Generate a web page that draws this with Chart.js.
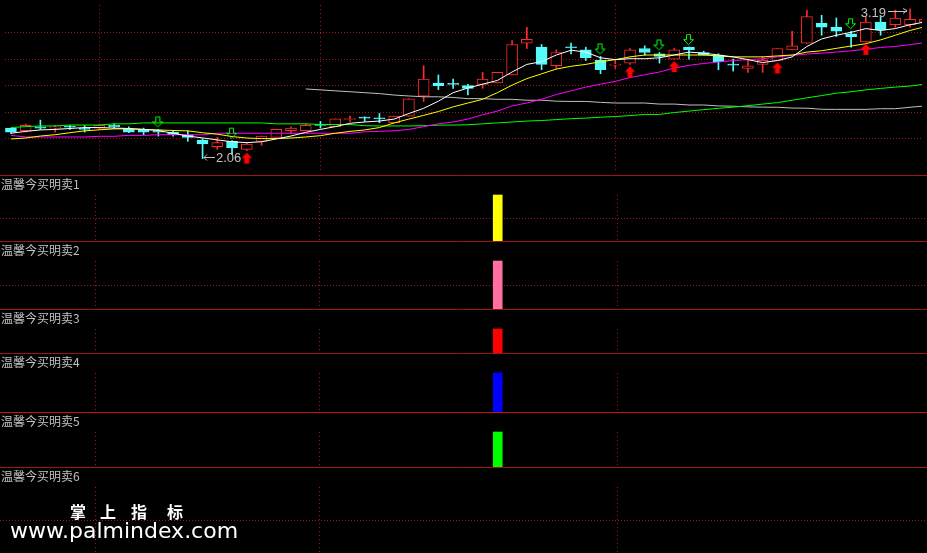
<!DOCTYPE html>
<html>
<head>
<meta charset="utf-8">
<script src="https://cdn.jsdelivr.net/npm/chart.js@4.4.1/dist/chart.umd.min.js"></script>
<style>
html, body { margin: 0; padding: 0; background: #000; }
#wrap { position: relative; width: 927px; height: 553px; overflow: hidden; background: #000; }
#wrap canvas { position: absolute; left: 0; }
</style>
</head>
<body>
<div id="wrap"></div>
<script>
// daily bars, index 0 = leftmost candle
const openP = [2.29,2.27,2.30,2.29,2.300,2.285,2.29,2.31,2.28,2.28,
  2.27,2.26,2.24,2.20,2.15,2.19,2.13,2.19,2.22,2.27,
  2.27,2.315,2.30,2.355,2.37,2.365,2.33,2.38,2.53,2.63,
  2.625,2.61,2.62,2.63,2.69,2.93,2.90,2.76,2.90,2.88,
  2.80,2.765,2.78,2.89,2.85,2.81,2.90,2.86,2.84,2.77,
  2.74,2.77,2.80,2.88,2.93,3.08,3.05,3.00,2.94,3.09,
  3.07,3.07,3.09];
const highP = [2.29,2.32,2.35,2.31,2.31,2.31,2.32,2.32,2.30,2.29,
  2.28,2.27,2.27,2.21,2.22,2.195,2.18,2.23,2.28,2.30,
  2.32,2.34,2.36,2.38,2.375,2.40,2.38,2.51,2.76,2.69,
  2.66,2.62,2.71,2.71,2.95,3.05,2.92,2.88,2.93,2.90,
  2.83,2.80,2.89,2.91,2.86,2.89,2.90,2.87,2.85,2.81,
  2.81,2.83,2.89,3.02,3.18,3.14,3.12,3.02,3.13,3.13,
  3.18,3.19,3.11];
const lowP = [2.25,2.26,2.28,2.26,2.28,2.26,2.28,2.29,2.255,2.24,
  2.23,2.23,2.19,2.06,2.13,2.09,2.12,2.16,2.22,2.25,
  2.27,2.29,2.30,2.34,2.34,2.33,2.33,2.38,2.49,2.58,
  2.59,2.54,2.59,2.63,2.69,2.89,2.73,2.74,2.85,2.80,
  2.70,2.74,2.77,2.84,2.78,2.81,2.81,2.84,2.73,2.72,
  2.71,2.71,2.80,2.88,2.93,2.99,2.98,2.90,2.94,2.99,
  3.05,3.05,3.09];
const closeP = [2.26,2.31,2.29,2.30,2.297,2.28,2.31,2.30,2.26,2.26,
  2.26,2.24,2.22,2.17,2.18,2.14,2.17,2.23,2.28,2.29,
  2.31,2.31,2.36,2.36,2.365,2.36,2.38,2.51,2.66,2.61,
  2.62,2.59,2.66,2.71,2.92,2.96,2.77,2.86,2.895,2.82,
  2.73,2.77,2.88,2.86,2.83,2.88,2.88,2.84,2.79,2.765,
  2.76,2.80,2.89,2.91,3.13,3.05,3.02,2.98,3.09,3.03,
  3.12,3.11,3.11];

// moving averages
const ma5 = [2.251,2.265,2.276,2.280,2.287,2.294,2.294,2.290,2.287,2.280,
  2.272,2.251,2.230,2.216,2.201,2.187,2.180,2.187,2.208,2.230,
  2.258,2.280,2.301,2.326,2.336,2.343,2.358,2.400,2.439,2.493,
  2.557,2.592,2.621,2.649,2.713,2.770,2.791,2.841,2.877,2.863,
  2.820,2.806,2.813,2.813,2.820,2.841,2.863,2.855,2.841,2.827,
  2.806,2.784,2.799,2.827,2.905,2.962,2.990,3.012,3.040,3.026,
  3.040,3.069,3.090];
const ma10 = [2.208,2.215,2.230,2.240,2.255,2.269,2.277,2.284,2.284,2.280,
  2.276,2.272,2.269,2.255,2.244,2.226,2.215,2.211,2.211,2.215,
  2.223,2.233,2.251,2.265,2.276,2.294,2.329,2.358,2.386,2.415,
  2.450,2.479,2.507,2.557,2.614,2.663,2.699,2.735,2.756,2.770,
  2.791,2.806,2.827,2.841,2.841,2.841,2.841,2.841,2.834,2.827,
  2.827,2.827,2.834,2.841,2.863,2.873,2.891,2.909,2.926,2.955,
  2.990,3.026,3.054];
const ma20 = [2.235,2.223,2.223,2.223,2.223,2.223,2.228,2.228,2.235,2.235,
  2.240,2.240,2.240,2.240,2.251,2.251,2.251,2.251,2.251,2.251,
  2.251,2.251,2.251,2.251,2.262,2.265,2.270,2.280,2.301,2.322,
  2.336,2.358,2.390,2.418,2.457,2.479,2.507,2.543,2.571,2.599,
  2.621,2.642,2.671,2.692,2.713,2.742,2.763,2.777,2.788,2.799,
  2.806,2.813,2.827,2.838,2.848,2.855,2.863,2.873,2.884,2.898,
  2.905,2.919,2.934];
const ma60 = [2.294,2.301,2.306,2.306,2.313,2.313,2.313,2.322,2.322,2.329,
  2.329,2.329,2.329,2.329,2.329,2.329,2.329,2.329,2.322,2.322,
  2.322,2.317,2.317,2.317,2.308,2.306,2.306,2.306,2.308,2.312,
  2.313,2.315,2.322,2.329,2.336,2.343,2.347,2.354,2.361,2.365,
  2.372,2.377,2.384,2.393,2.393,2.407,2.418,2.429,2.439,2.448,
  2.459,2.471,2.482,2.500,2.518,2.535,2.553,2.564,2.578,2.589,
  2.599,2.607,2.621];
const ma120 = [null,null,null,null,null,null,null,null,null,null,
  null,null,null,null,null,null,null,null,null,null,
  2.585,2.578,2.571,2.564,2.557,2.550,2.539,2.532,2.526,2.526,
  2.521,2.512,2.512,2.507,2.507,2.500,2.500,2.493,2.491,2.491,
  2.484,2.479,2.479,2.479,2.471,2.471,2.464,2.464,2.457,2.455,
  2.450,2.448,2.447,2.441,2.440,2.432,2.431,2.431,2.431,2.436,
  2.436,2.447,2.457];

const sellDays = [10, 15, 40, 44, 46, 57];
const buyDays = [16, 42, 45, 52, 58];
const gridPrices = [3.012, 2.813, 2.614, 2.415, 2.216];
const gridDays = [6, 21, 41];

const panelNames = ['温馨今买明卖1', '温馨今买明卖2', '温馨今买明卖3', '温馨今买明卖4', '温馨今买明卖5', '温馨今买明卖6'];
const signalDays = [33];
const sig1 = [1];
const sig2 = [1];
const sig3 = [1];
const sig4 = [1];
const sig5 = [1];
const sig6 = [0];

// layout / style
const CYAN = '#54fcfc', RED = '#ff2a2a', GRID = '#a01818', SEP = '#a01414';
const panelTops = [175, 241, 309, 353, 412, 467];
const panelHeights = [66, 68, 44, 59, 55, 86];
const panelColors = ['#ffff00', '#ff6fa0', '#ff0000', '#0000ff', '#00ff00', '#ffffff'];
const panelSigs = [sig1, sig2, sig3, sig4, sig5, sig6];
const panelMid = [true, true, false, false, false, true];

const wrap = document.getElementById('wrap');
function addCanvas(top, h) {
  const c = document.createElement('canvas');
  c.width = 927; c.height = h; c.style.top = top + 'px';
  wrap.appendChild(c);
  return c;
}

const up = i => closeP[i] > openP[i];
const pts = arr => arr.map((v, i) => ({x: i, y: v}));

function arrowCanvas(kind) {
  const c = document.createElement('canvas');
  c.width = 12; c.height = 30;
  const g = c.getContext('2d');
  if (kind === 'down') {
    g.strokeStyle = '#00ff00'; g.lineWidth = 1;
    g.beginPath();
    g.moveTo(3.5, 2.5); g.lineTo(7.5, 2.5); g.lineTo(7.5, 7.5); g.lineTo(10.5, 7.5);
    g.lineTo(5.5, 12.5); g.lineTo(0.5, 7.5); g.lineTo(3.5, 7.5); g.closePath();
    g.stroke();
  } else {
    g.fillStyle = '#ff0000';
    g.beginPath();
    g.moveTo(6, 17); g.lineTo(11.5, 22.5); g.lineTo(8.5, 22.5); g.lineTo(8.5, 28);
    g.lineTo(3.5, 28); g.lineTo(3.5, 22.5); g.lineTo(0.5, 22.5); g.closePath();
    g.fill();
  }
  return c;
}

const xScale = {type: 'linear', min: -0.403, max: 61.81, display: false, offset: false};
const baseOpts = {
  responsive: false, animation: false, events: [],
  layout: {padding: 0},
  plugins: {legend: {display: false}, tooltip: {enabled: false}},
};

const kPlugin = {
  id: 'kPlugin',
  beforeDatasetsDraw(chart) {
    const {ctx, chartArea: a, scales: {x, y}} = chart;
    ctx.save();
    ctx.strokeStyle = GRID; ctx.lineWidth = 1;
    ctx.setLineDash([1, 2]);
    gridPrices.forEach(p => {
      const py = Math.round(y.getPixelForValue(p)) + 0.5;
      ctx.beginPath(); ctx.moveTo(a.left, py); ctx.lineTo(a.right, py); ctx.stroke();
    });
    ctx.setLineDash([1, 3]);
    gridDays.forEach(d => {
      const px = Math.round(x.getPixelForValue(d)) + 0.5;
      ctx.beginPath(); ctx.moveTo(px, a.top); ctx.lineTo(px, a.bottom); ctx.stroke();
    });
    ctx.restore();
  },
  afterDatasetsDraw(chart) {
    const {ctx, scales: {x, y}} = chart;
    let lo = 0, hi = 0;
    lowP.forEach((v, i) => { if (v < lowP[lo]) lo = i; });
    highP.forEach((v, i) => { if (v > highP[hi]) hi = i; });
    ctx.save();
    ctx.strokeStyle = '#c0c0c0'; ctx.fillStyle = '#c0c0c0'; ctx.lineWidth = 1;
    ctx.font = '13px "Liberation Sans", sans-serif';
    ctx.textBaseline = 'middle';
    // lowest low
    let px = Math.round(x.getPixelForValue(lo)), py = Math.round(y.getPixelForValue(lowP[lo])) - 1.5;
    ctx.beginPath();
    ctx.moveTo(px + 12, py); ctx.lineTo(px + 1, py);
    ctx.moveTo(px + 4, py - 3); ctx.lineTo(px + 1, py); ctx.lineTo(px + 4, py + 3);
    ctx.stroke();
    ctx.textAlign = 'left';
    ctx.fillText(lowP[lo].toFixed(2), px + 13, py + 1);
    // highest high
    px = Math.round(x.getPixelForValue(hi)); py = Math.round(y.getPixelForValue(highP[hi])) + 2.5;
    ctx.beginPath();
    ctx.moveTo(px - 22, py); ctx.lineTo(px - 3, py);
    ctx.moveTo(px - 7, py - 3); ctx.lineTo(px - 3, py - 1); ctx.lineTo(px - 7, py + 2);
    ctx.stroke();
    ctx.textAlign = 'right';
    ctx.fillText(highP[hi].toFixed(2), px - 24, py + 2);
    ctx.restore();
  }
};

const candleColor = c => up(c.dataIndex) ? RED : CYAN;

new Chart(addCanvas(0, 175), {
  type: 'bar',
  data: {
    datasets: [
      {type: 'line', data: pts(ma5), borderColor: '#ffffff', borderWidth: 1, pointRadius: 0, order: 1},
      {type: 'line', data: pts(ma10), borderColor: '#ffff00', borderWidth: 1, pointRadius: 0, order: 1},
      {type: 'line', data: pts(ma20), borderColor: '#ff00ff', borderWidth: 1, pointRadius: 0, order: 1},
      {type: 'line', data: pts(ma60), borderColor: '#00ff00', borderWidth: 1, pointRadius: 0, order: 1},
      {type: 'line', data: pts(ma120), borderColor: '#c0c0c0', borderWidth: 1, pointRadius: 0, order: 1},
      {type: 'line', data: sellDays.map(d => ({x: d, y: highP[d]})), showLine: false,
        pointStyle: arrowCanvas('down'), pointRadius: 1, order: 0},
      {type: 'line', data: buyDays.map(d => ({x: d, y: lowP[d]})), showLine: false,
        pointStyle: arrowCanvas('up'), pointRadius: 1, order: 0},
      // candle bodies
      {data: openP.map((o, i) => ({x: i, y: [o, closeP[i]]})),
        backgroundColor: c => up(c.dataIndex) ? '#000000' : CYAN,
        borderColor: candleColor, borderWidth: 1, borderSkipped: false,
        barThickness: 11, minBarLength: 1, grouped: false, order: 2},
      // lower shadows
      {data: openP.map((o, i) => ({x: i, y: [lowP[i], Math.min(o, closeP[i])]})),
        backgroundColor: candleColor, borderWidth: 0, barThickness: 1, grouped: false, order: 3},
      // upper shadows
      {data: openP.map((o, i) => ({x: i, y: [Math.max(o, closeP[i]), highP[i]]})),
        backgroundColor: candleColor, borderWidth: 0, barThickness: 1, grouped: false, order: 3}
    ]
  },
  options: {
    ...baseOpts,
    scales: {
      x: xScale,
      y: {type: 'linear', min: 1.974, max: 3.218, display: false, beginAtZero: false}
    }
  },
  plugins: [kPlugin]
});

panelNames.forEach((name, k) => {
  const h = panelHeights[k];
  const last = k === panelNames.length - 1;
  const plugin = {
    id: 'panel' + k,
    beforeDatasetsDraw(chart) {
      const {ctx, chartArea: a, scales: {x, y}} = chart;
      ctx.save();
      ctx.strokeStyle = k === 4 ? '#c81010' : SEP; ctx.lineWidth = 1;
      ctx.beginPath(); ctx.moveTo(0, 0.5); ctx.lineTo(927, 0.5); ctx.stroke();
      ctx.strokeStyle = GRID;
      ctx.setLineDash([1, 3]);
      const top = Math.round(y.getPixelForValue(1));
      gridDays.forEach(d => {
        const px = Math.round(x.getPixelForValue(d)) + 0.5;
        ctx.beginPath(); ctx.moveTo(px, top); ctx.lineTo(px, a.bottom); ctx.stroke();
      });
      if (panelMid[k]) {
        ctx.setLineDash([1, 2]);
        const py = Math.round(y.getPixelForValue(0.5)) + 0.5;
        ctx.beginPath(); ctx.moveTo(0, py); ctx.lineTo(927, py); ctx.stroke();
      }
      ctx.restore();
    },
    afterDraw(chart) {
      const {ctx} = chart;
      ctx.save();
      ctx.fillStyle = '#c0c0c0';
      ctx.font = '12px "Noto Sans CJK SC", sans-serif';
      ctx.textBaseline = 'middle';
      ctx.fillText(name, 1, 9);
      if (last) {
        ctx.fillStyle = '#ffffff';
        ctx.font = 'bold 16px "Noto Sans CJK SC", sans-serif';
        ctx.textBaseline = 'alphabetic';
        const wm = ['掌', '上', '指', '标'];
        const wx = [70, 100, 131, 167];
        wm.forEach((ch, j) => ctx.fillText(ch, wx[j], 51));
        ctx.font = '22px "DejaVu Sans", sans-serif';
        ctx.fillText('www.palmindex.com', 10, 71);
      }
      ctx.restore();
    }
  };
  new Chart(addCanvas(panelTops[k], h), {
    type: 'bar',
    data: {
      datasets: [{
        data: signalDays.map((d, j) => ({x: d, y: panelSigs[k][j]})),
        backgroundColor: c => (c.raw && c.raw.y > 0) ? panelColors[k] : 'rgba(0,0,0,0)',
        borderWidth: 0, barThickness: 9, grouped: false
      }]
    },
    options: {
      ...baseOpts,
      scales: {
        x: xScale,
        y: {type: 'linear', min: 0, max: 1 + 20 / (h - 20), display: false, beginAtZero: false}
      }
    },
    plugins: [plugin]
  });
});
</script>
</body>
</html>
